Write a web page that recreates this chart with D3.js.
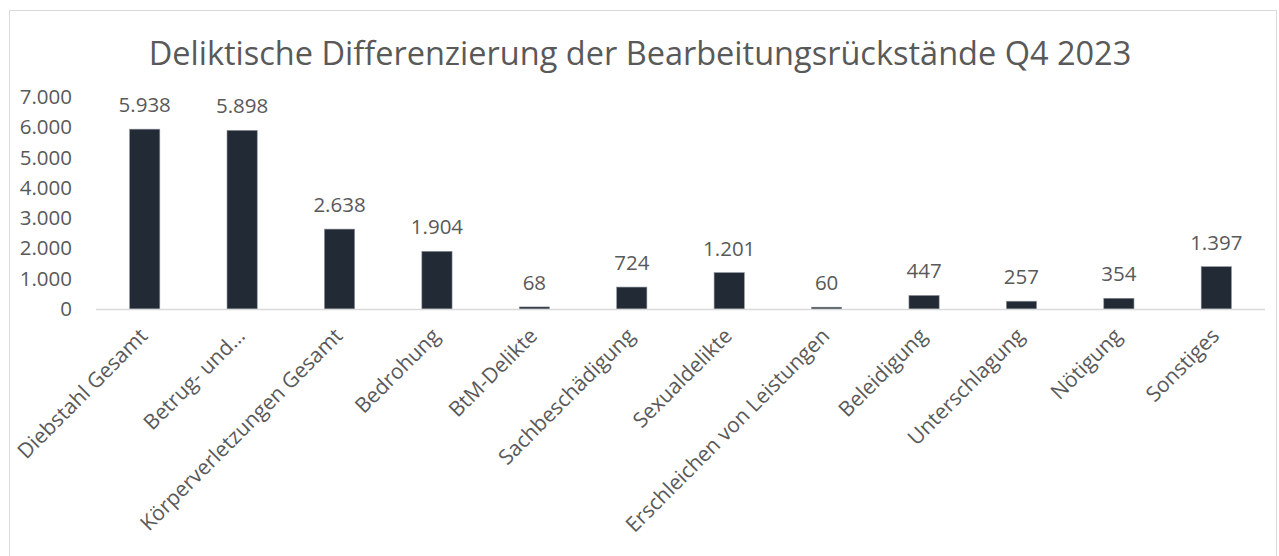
<!DOCTYPE html>
<html>
<head>
<meta charset="utf-8">
<script src="https://cdn.jsdelivr.net/npm/d3@7"></script>
<style>
  body { margin: 0; background: #fff; }
  svg { display: block; font-family: "Open Sans", sans-serif; }
</style>
</head>
<body>
<div id="chart"></div>
<script>
// data
const categories = ["Diebstahl Gesamt", "Betrug- und…", "Körperverletzungen Gesamt", "Bedrohung",
  "BtM-Delikte", "Sachbeschädigung", "Sexualdelikte", "Erschleichen von Leistungen",
  "Beleidigung", "Unterschlagung", "Nötigung", "Sonstiges"];
const values = [5938, 5898, 2638, 1904, 68, 724, 1201, 60, 447, 257, 354, 1397];
const yTicks = [0, 1000, 2000, 3000, 4000, 5000, 6000, 7000];
const chartTitle = "Deliktische Differenzierung der Bearbeitungsrückstände Q4 2023";

const width = 1279, height = 556;
const plotLeft = 96, plotRight = 1265, plotTop = 97, plotBottom = 309;
const textColor = "#595959";

const de = d3.formatLocale({decimal: ",", thousands: ".", grouping: [3], currency: ["", " €"]});
const fmt = de.format(",d");

const svg = d3.select("#chart").append("svg")
    .attr("width", width)
    .attr("height", height);

// chart border
svg.append("rect")
    .attr("x", 9.5).attr("y", 10.5)
    .attr("width", 1267).attr("height", 560)
    .attr("fill", "none")
    .attr("stroke", "#d9d9d9");

svg.append("text")
    .attr("x", 640)
    .attr("y", 65)
    .attr("text-anchor", "middle")
    .style("font-size", "32.5px")
    .style("fill", textColor)
    .text(chartTitle);

const x = d3.scaleBand()
    .domain(categories)
    .range([plotLeft, plotRight])
    .paddingInner(0.69)
    .paddingOuter(0.345);

const y = d3.scaleLinear()
    .domain([0, 7000])
    .range([plotBottom, plotTop]);

// y axis labels
svg.append("g")
    .attr("transform", `translate(72,0)`)
    .call(d3.axisLeft(y).tickValues(yTicks).tickFormat(fmt).tickSize(0).tickPadding(0))
    .call(g => g.select(".domain").remove())
    .call(g => g.selectAll("text")
        .style("font-size", "20.5px")
        .style("font-family", "'Open Sans', sans-serif")
        .attr("fill", textColor));

// bars
svg.selectAll(".bar")
    .data(values)
    .enter()
    .append("rect")
    .attr("class", "bar")
    .attr("x", (d, i) => x(categories[i]))
    .attr("y", d => y(d))
    .attr("width", x.bandwidth())
    .attr("height", d => y(0) - y(d))
    .attr("fill", "#222a35")
    .attr("stroke", "#8a9099")
    .attr("stroke-width", 0.6);

// x axis line
svg.append("line")
    .attr("x1", plotLeft).attr("x2", plotRight)
    .attr("y1", plotBottom + 0.5).attr("y2", plotBottom + 0.5)
    .attr("stroke", "#d9d9d9")
    .attr("stroke-width", 1.5);

// value labels
svg.selectAll(".val")
    .data(values)
    .enter()
    .append("text")
    .attr("class", "val")
    .attr("x", (d, i) => x(categories[i]) + x.bandwidth() / 2)
    .attr("y", d => y(d) - 17)
    .attr("text-anchor", "middle")
    .style("font-size", "20.5px")
    .style("fill", textColor)
    .text(d => fmt(d));

// category labels
svg.selectAll(".cat")
    .data(categories)
    .enter()
    .append("text")
    .attr("class", "cat")
    .attr("transform", d => `translate(${x(d) + x.bandwidth() / 2 - 1},${plotBottom + 23}) rotate(-45)`)
    .attr("text-anchor", "end")
    .attr("dy", "0.35em")
    .style("font-size", "21px")
    .style("fill", textColor)
    .text(d => d);
</script>
</body>
</html>
